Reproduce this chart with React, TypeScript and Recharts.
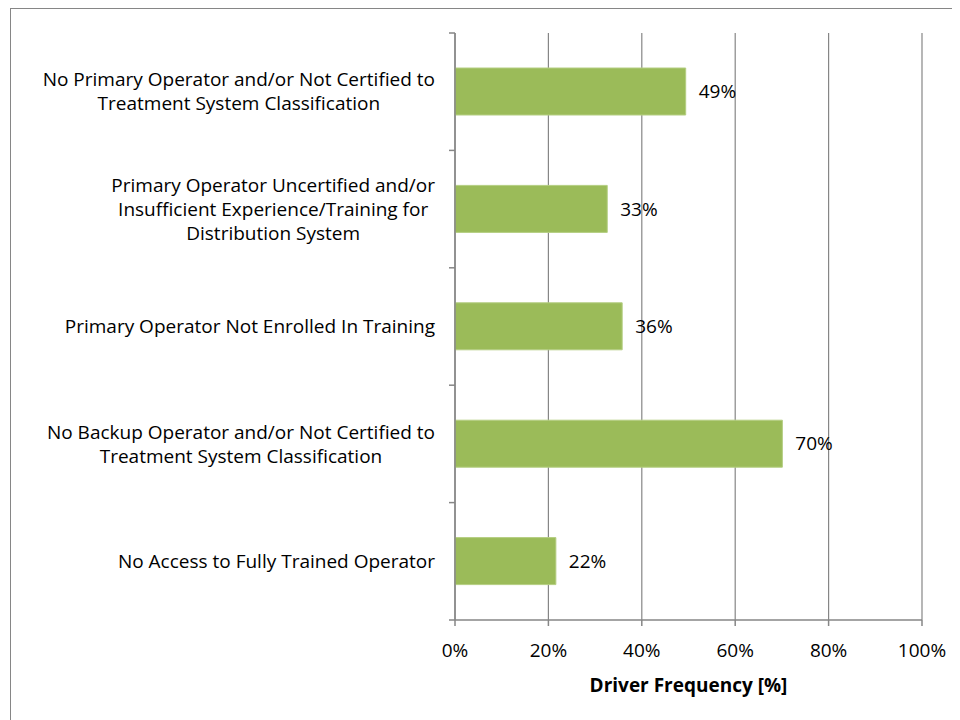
import React from 'react';
import { BarChart, Bar, XAxis, YAxis, CartesianGrid, LabelList } from 'recharts';

const categoryLines: string[][] = [
  ['No Primary Operator and/or Not Certified to', 'Treatment System Classification'],
  ['Primary Operator Uncertified and/or', 'Insufficient Experience/Training for', 'Distribution System'],
  ['Primary Operator Not Enrolled In Training'],
  ['No Backup Operator and/or Not Certified to', 'Treatment System Classification'],
  ['No Access to Fully Trained Operator'],
];
const categories = categoryLines.map((l) => l.join(' '));
const frequencies = [49.4, 32.6, 35.8, 70.1, 21.6];
const valueLabels = ['49%', '33%', '36%', '70%', '22%'];
const xTicks = [0, 20, 40, 60, 80, 100];
const axisTitle = 'Driver Frequency [%]';

const data = categories.map((c, i) => ({ name: c, value: frequencies[i], label: valueLabels[i] }));

const FONT_NAME = 'Open Sans';
const FONT = '"Open Sans", "Noto Sans", sans-serif';
const FS = 19;
const CAT_FS = 19;
const CHART_W = 949;
const CHART_H = 711;
const MARGIN = { top: 24, right: 38, left: 0, bottom: 28 };
const XAXIS_H = 72;
const YAXIS_W = 444;
const PLOT_H = CHART_H - MARGIN.top - MARGIN.bottom - XAXIS_H;
const BAND = PLOT_H / categories.length;
const AXIS_COLOR = '#868686';

let ctx: CanvasRenderingContext2D | null = null;
function measure(text: string): number {
  if (!ctx) {
    const c = document.createElement('canvas');
    ctx = c.getContext('2d');
  }
  if (!ctx) return text.length * CAT_FS * 0.5;
  ctx.font = `${CAT_FS}px "${FONT_NAME}"`;
  return ctx.measureText(text).width;
}

function CategoryTick(props: any) {
  const { x, y, index } = props;
  const lines = categoryLines[index] || [];
  const maxW = Math.max(...lines.map(measure));
  const cx = x - 20 - maxW / 2;
  const lh = 24;
  const startY = y - ((lines.length - 1) * lh) / 2;
  const top = y - BAND / 2;
  return (
    <g>
      <line x1={x - 6} x2={x} y1={top} y2={top} stroke={AXIS_COLOR} strokeWidth={1.5} />
      {index === categories.length - 1 && (
        <line x1={x - 6} x2={x} y1={y + BAND / 2} y2={y + BAND / 2} stroke={AXIS_COLOR} strokeWidth={1.5} />
      )}
      <text textAnchor="middle" fontFamily={FONT} fontSize={CAT_FS} fill="#000">
        {lines.map((ln, i) => (
          <tspan key={i} x={cx} y={startY + i * lh} dy="0.35em">
            {ln}
          </tspan>
        ))}
      </text>
    </g>
  );
}

export default function App() {
  return (
    <div
      style={{
        marginLeft: 2,
        width: 960,
        height: 720,
        borderLeft: `1.5px solid ${AXIS_COLOR}`,
        borderTop: `1.5px solid ${AXIS_COLOR}`,
        background: '#fff',
      }}
    >
      <BarChart width={CHART_W} height={CHART_H} data={data} layout="vertical" margin={MARGIN}>
        <CartesianGrid horizontal={false} vertical stroke={AXIS_COLOR} strokeWidth={1.2} />
        <XAxis
          type="number"
          domain={[0, 100]}
          ticks={xTicks}
          height={XAXIS_H}
          tickFormatter={(v: number) => `${v}%`}
          stroke={AXIS_COLOR}
          strokeWidth={1.5}
          tickSize={6}
          tickMargin={18}
          tick={{ fill: '#000', fontFamily: FONT, fontSize: FS }}
          label={{
            value: axisTitle,
            position: 'insideBottom',
            offset: 0,
            fill: '#000',
            fontFamily: FONT,
            fontSize: FS,
            fontWeight: 700,
          }}
        />
        <YAxis
          type="category"
          dataKey="name"
          width={YAXIS_W}
          stroke={AXIS_COLOR}
          strokeWidth={1.5}
          tickLine={false}
          tickSize={0}
          tickMargin={0}
          tick={<CategoryTick />}
          interval={0}
        />
        <Bar dataKey="value" barSize={47} fill="#9BBB59" stroke="#B4CE82" strokeWidth={1} isAnimationActive={false}>
          <LabelList dataKey="label" position="right" offset={13} fill="#000" fontFamily={FONT} fontSize={FS} />
        </Bar>
      </BarChart>
    </div>
  );
}
